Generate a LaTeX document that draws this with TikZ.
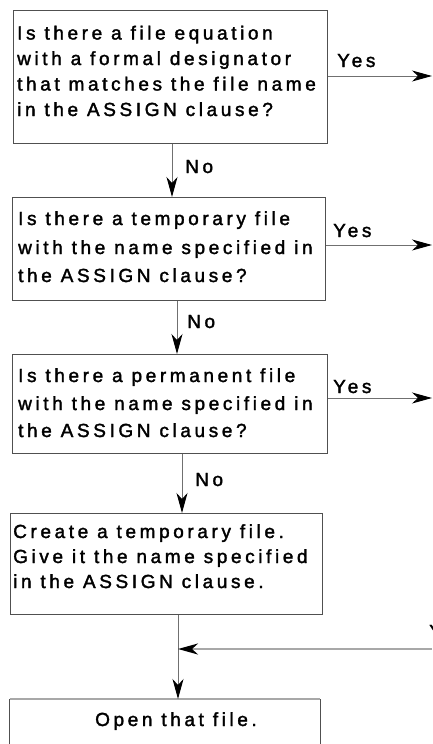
\documentclass[tikz,border=0pt]{standalone}
\usepackage{fontspec}
\setmainfont{Liberation Sans}[LetterSpace=19, FakeBold=1.8]
\usetikzlibrary{arrows.meta}
\definecolor{boxgray}{HTML}{505050}
\definecolor{linegray}{HTML}{707070}
\definecolor{lightgray}{HTML}{A8A8A8}
\tikzset{
  boxnode/.style={draw=boxgray, line width=1.1pt, inner sep=0pt, anchor=north west},
  plainbox/.style={inner sep=0pt, anchor=north west},
  txt/.style={anchor=base west, inner sep=0pt, font=\fontsize{19}{22}\selectfont},
  lbl/.style={anchor=base west, inner sep=0pt, font=\fontsize{19}{22}\selectfont},
  conn/.style={draw=linegray, line width=1pt, -{Stealth[length=20pt,width=11pt,inset=6pt,color=black]}},
  mergeconn/.style={draw=lightgray, line width=2pt, -{Stealth[length=20pt,width=11pt,inset=6pt,color=black]}},
  boxline/.style={draw=boxgray, line width=1.1pt},
  lightline/.style={draw=lightgray, line width=2pt},
}
\begin{document}
\begin{tikzpicture}[x=1pt,y=-1pt]
\useasboundingbox (0,0) rectangle (432,744);
% boxes
\node[boxnode, minimum width=314pt, minimum height=133pt] (b1) at (12.5,10) {};
\node[boxnode, minimum width=313pt, minimum height=103pt] (b2) at (12,197) {};
\node[boxnode, minimum width=315pt, minimum height=99pt] (b3) at (12,354) {};
\node[boxnode, minimum width=312pt, minimum height=101pt] (b4) at (9.5,513) {};
\node[plainbox, minimum width=310.5pt, minimum height=70pt] (b5) at (9.5,699) {};
\draw[boxline] (b5.south west) -- (b5.north west);
\draw[lightline] (b5.north west) -- (b5.north east);
\draw[boxline] (b5.north east) -- (b5.south east);
% texts
\node[txt] (t1a) at (17,39.5) {Is there a file equation};
\node[txt] (t1b) at (17,65) {with a formal designator};
\node[txt] (t1c) at (17,90.5) {that matches the file name};
\node[txt] (t1d) at (17,116) {in the ASSIGN clause?};
\node[txt] (t2a) at (18,225) {Is there a temporary file};
\node[txt] (t2b) at (18,254) {with the name specified in};
\node[txt] (t2c) at (18,282) {the ASSIGN clause?};
\node[txt] (t3a) at (18,382) {Is there a permanent file};
\node[txt] (t3b) at (18,410) {with the name specified in};
\node[txt] (t3c) at (18,437) {the ASSIGN clause?};
\node[txt] (t4a) at (13,538) {Create a temporary file.};
\node[txt] (t4b) at (13,563) {Give it the name specified};
\node[txt] (t4c) at (13,588) {in the ASSIGN clause.};
\node[txt] (t5a) at (95,726) {Open that file.};
% labels
\node[lbl] (no1) at (185,173) {No};
\node[lbl] (no2) at (187,328) {No};
\node[lbl] (no3) at (195,486) {No};
\node[lbl] (yes1) at (337,67) {Yes};
\node[lbl] (yes2) at (333,237) {Yes};
\node[lbl] (yes3) at (333,393) {Yes};
\node[lbl] (yes4) at (429,638) {Y};
% free ends
\coordinate (e1) at (432,76);
\coordinate (e2) at (432,245);
\coordinate (e3) at (432,398);
\coordinate (m) at (432,649);
% connectors
\draw[conn] (172,0 |- b1.south) -- (172,0 |- b2.north);
\draw[conn] (177,0 |- b2.south) -- (177,0 |- b3.north);
\draw[conn] (182,0 |- b3.south) -- (182,0 |- b4.north);
\draw[conn] (178,0 |- b4.south) -- (178,0 |- b5.north);
\draw[conn] (b1.east |- e1) -- (e1);
\draw[conn] (b2.east |- e2) -- (e2);
\draw[conn] (b3.east |- e3) -- (e3);
\draw[mergeconn] (m) -- (178,0 |- m);
\end{tikzpicture}
\end{document}
